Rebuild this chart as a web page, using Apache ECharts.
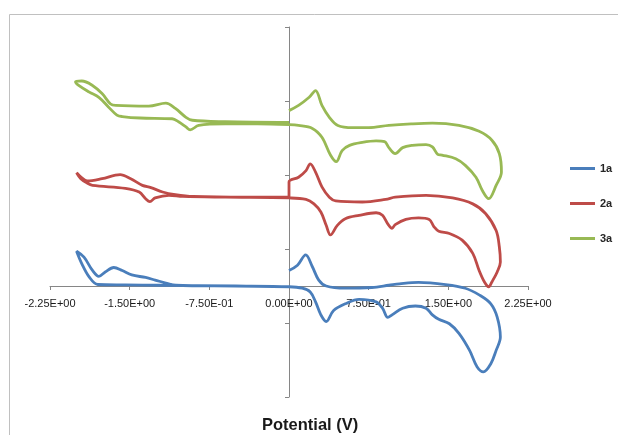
<!DOCTYPE html>
<html>
<head>
<meta charset="utf-8">
<script src="https://cdn.jsdelivr.net/npm/echarts@6/dist/echarts.min.js"></script>
<style>
  html, body { margin: 0; padding: 0; background: #fff; }
  #chart { width: 618px; height: 435px; }
</style>
</head>
<body>
<div id="chart"></div>
<script>
// series names
const seriesNames = ['1a', '2a', '3a']
const seriesColors = ['#4A7EBB', '#BE4B48', '#98B954']

// x axis ticks (V)
const xTicks = { min: -2.25, max: 2.25, step: 0.75 }
// y axis (current, arbitrary units)
const yTicks = { min: -1.5, max: 3.5, step: 1 }

// [potential V, current] pairs, in scan order
const curve1a = [
  [0.00, 0.21], [0.08, 0.28], [0.157, 0.42], [0.22, 0.26], [0.28, 0.08], [0.35, 0.00],
  [0.53, -0.03], [0.78, -0.02], [0.94, 0.01], [1.04, 0.03], [1.22, 0.05], [1.475, 0.02],
  [1.66, -0.03], [1.79, -0.12], [1.90, -0.24], [1.96, -0.42], [1.99, -0.69],
  [1.95, -0.87], [1.90, -1.05], [1.83, -1.16], [1.77, -1.09], [1.70, -0.87], [1.60, -0.64],
  [1.51, -0.51], [1.41, -0.45], [1.35, -0.39], [1.29, -0.30], [1.19, -0.27], [1.07, -0.30],
  [0.97, -0.39], [0.93, -0.425], [0.88, -0.30], [0.82, -0.215], [0.66, -0.18], [0.53, -0.24],
  [0.42, -0.33], [0.35, -0.48], [0.30, -0.39], [0.25, -0.215], [0.20, -0.08], [0.125, -0.03],
  [0.00, -0.01],
  [-0.50, 0.00], [-1.22, 0.01], [-1.54, 0.015], [-1.80, 0.02], [-1.88, 0.12], [-1.95, 0.30],
  [-2.00, 0.47],
  [-1.93, 0.39], [-1.85, 0.21], [-1.79, 0.13], [-1.73, 0.19], [-1.65, 0.25], [-1.57, 0.21],
  [-1.48, 0.15], [-1.35, 0.115], [-1.26, 0.08], [-1.16, 0.04], [-1.07, 0.01], [-0.50, 0.00],
  [0.00, -0.01]
]

const curve2a = [
  [0.00, 1.19], [0.00, 1.405], [0.09, 1.47], [0.16, 1.56], [0.20, 1.65], [0.25, 1.54],
  [0.31, 1.34], [0.38, 1.20], [0.44, 1.15], [0.69, 1.135], [0.91, 1.17], [1.00, 1.20],
  [1.29, 1.225], [1.54, 1.19], [1.73, 1.11], [1.85, 0.98], [1.95, 0.75], [1.98, 0.53],
  [1.99, 0.325],
  [1.96, 0.19], [1.91, 0.055], [1.88, -0.01], [1.84, 0.055], [1.79, 0.21], [1.73, 0.44],
  [1.63, 0.62], [1.51, 0.71], [1.41, 0.74], [1.365, 0.80], [1.32, 0.90], [1.22, 0.92],
  [1.10, 0.90], [1.00, 0.83], [0.97, 0.78], [0.93, 0.84], [0.88, 0.955], [0.82, 0.99],
  [0.66, 0.955], [0.53, 0.91], [0.455, 0.82], [0.39, 0.69], [0.35, 0.82], [0.30, 1.00],
  [0.235, 1.11], [0.16, 1.17], [0.00, 1.19],
  [-0.60, 1.20], [-1.00, 1.21], [-1.13, 1.225], [-1.26, 1.19], [-1.31, 1.14], [-1.35, 1.18],
  [-1.41, 1.27], [-1.54, 1.32], [-1.85, 1.36], [-1.90, 1.39], [-1.96, 1.45], [-2.00, 1.53],
  [-1.95, 1.46], [-1.90, 1.42], [-1.76, 1.45], [-1.59, 1.505], [-1.49, 1.45], [-1.38, 1.36],
  [-1.30, 1.33], [-1.19, 1.27], [-1.07, 1.235], [-0.90, 1.21], [-0.40, 1.20], [0.00, 1.20]
]

const curve3a = [
  [0.00, 2.37], [0.09, 2.44], [0.19, 2.55], [0.25, 2.64], [0.31, 2.44], [0.38, 2.28],
  [0.46, 2.17], [0.60, 2.14], [0.75, 2.14], [0.94, 2.17], [1.15, 2.19], [1.35, 2.20],
  [1.60, 2.17], [1.79, 2.09], [1.91, 1.97], [1.98, 1.79], [2.00, 1.54],
  [1.95, 1.36], [1.88, 1.18], [1.82, 1.29], [1.76, 1.47], [1.66, 1.63], [1.57, 1.72],
  [1.44, 1.77], [1.40, 1.78], [1.35, 1.88], [1.29, 1.91], [1.16, 1.90], [1.07, 1.87],
  [1.00, 1.79], [0.94, 1.87], [0.90, 1.95], [0.82, 1.96], [0.69, 1.94], [0.57, 1.90],
  [0.50, 1.83], [0.445, 1.68], [0.39, 1.77], [0.31, 2.01], [0.22, 2.13], [0.09, 2.17],
  [0.00, 2.18],
  [-0.30, 2.19], [-0.60, 2.19], [-0.85, 2.17], [-0.93, 2.11], [-0.97, 2.15], [-1.04, 2.22],
  [-1.10, 2.26], [-1.40, 2.27], [-1.57, 2.29], [-1.62, 2.31], [-1.70, 2.42], [-1.79, 2.55],
  [-1.88, 2.62], [-1.98, 2.71], [-2.01, 2.76],
  [-1.95, 2.77], [-1.85, 2.71], [-1.76, 2.60], [-1.68, 2.46], [-1.63, 2.44], [-1.32, 2.43],
  [-1.16, 2.47], [-1.07, 2.40], [-0.97, 2.28], [-0.91, 2.24], [-0.60, 2.22], [0.00, 2.21]
]

const curves = [curve1a, curve2a, curve3a]

// Excel style scientific label, e.g. -7.50E-01
const sci = v => {
  const parts = Number(v).toExponential(2).split('e')
  const n = parseInt(parts[1], 10)
  return parts[0] + 'E' + (n < 0 ? '-' : '+') + String(Math.abs(n)).padStart(2, '0')
}

const axisGray = '#868686'
const font = 'Liberation Sans, Arial, sans-serif'

// plot box
const gridTop = 27
const gridHeight = 370
// the x axis sits at current = 0, move it up from the grid bottom
const zeroOffset = -gridHeight * (0 - yTicks.min) / (yTicks.max - yTicks.min)

let chart = echarts.init(document.getElementById('chart'))
let option = {
  animation: false,
  backgroundColor: '#fff',
  title: {
    text: 'Potential (V)',
    left: 257,
    top: 412,
    textStyle: {
      fontFamily: font,
      fontSize: 16.5,
      fontWeight: 'bold',
      color: '#1a1a1a',
    },
  },
  graphic: [
    {
      type: 'rect',
      silent: true,
      shape: { x: 9.5, y: 14.5, width: 700, height: 500 },
      style: { fill: 'none', stroke: '#C0C0C0', lineWidth: 1 },
    },
  ],
  legend: {
    orient: 'vertical',
    left: 565,
    top: 158,
    itemWidth: 25,
    itemHeight: 3,
    itemGap: 24,
    icon: 'rect',
    data: seriesNames,
    textStyle: {
      fontFamily: font,
      fontSize: 11,
      fontWeight: 'bold',
      color: '#262626',
    },
  },
  grid: {
    left: 50,
    right: 90,
    top: gridTop,
    height: gridHeight,
  },
  xAxis: {
    type: 'value',
    position: 'bottom',
    offset: zeroOffset,
    min: xTicks.min,
    max: xTicks.max,
    interval: xTicks.step,
    splitLine: { show: false },
    axisLine: { onZero: false, lineStyle: { color: axisGray, width: 1 } },
    axisTick: { show: true, length: 4, lineStyle: { color: axisGray } },
    axisLabel: {
      margin: 12,
      fontFamily: font,
      fontSize: 11,
      color: '#1a1a1a',
      formatter: sci,
    },
  },
  yAxis: {
    type: 'value',
    min: yTicks.min,
    max: yTicks.max,
    interval: yTicks.step,
    splitLine: { show: false },
    axisLine: { show: true, onZero: true, lineStyle: { color: axisGray, width: 1 } },
    axisTick: { show: true, length: 4, lineStyle: { color: axisGray } },
    axisLabel: { show: false },
  },
  series: seriesNames.map((name, i) => ({
    name: name,
    type: 'line',
    data: curves[i],
    showSymbol: false,
    symbol: 'none',
    smooth: 0.35,
    color: seriesColors[i],
    lineStyle: { width: 2.8, color: seriesColors[i] },
  })),
}
chart.setOption(option)
</script>
</body>
</html>
